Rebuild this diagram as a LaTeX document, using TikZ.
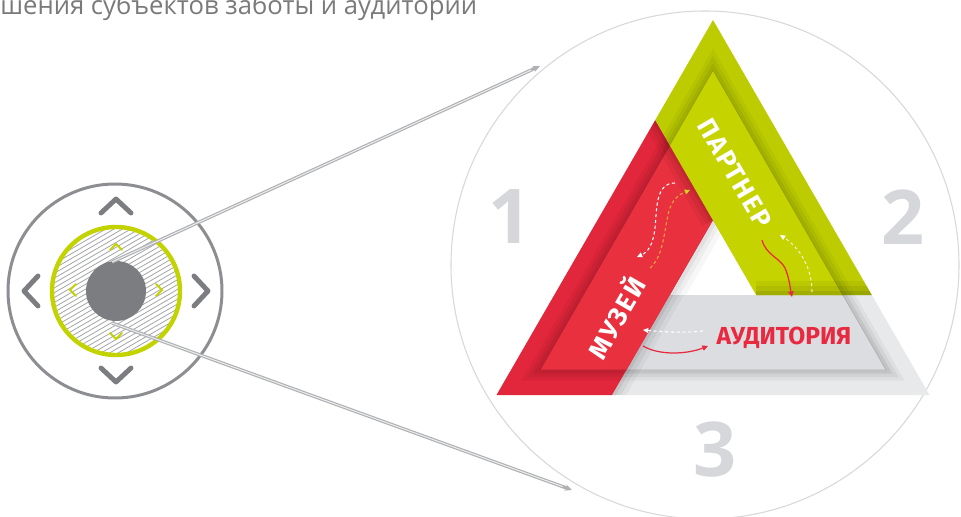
\documentclass[tikz,border=0pt]{standalone}
\usepackage{fontspec}
\setmainfont{Open Sans}
\newfontfamily\labfont{Fira Sans}
\newfontfamily\labfontw{Fira Sans}[LetterSpace=7]
\usetikzlibrary{arrows.meta,calc}
\definecolor{redband}{HTML}{E2263B}
\definecolor{redin}{HTML}{E8303F}
\definecolor{greenband}{HTML}{BDCC00}
\definecolor{greenin}{HTML}{C5D300}
\definecolor{grayband}{HTML}{E8E9EB}
\definecolor{grayin}{HTML}{DCDDE0}
\definecolor{numgray}{HTML}{D5D7DA}
\definecolor{ctrlgray}{HTML}{7B7D80}
\definecolor{ringgray}{HTML}{8C8E91}
\definecolor{lime}{HTML}{C3D300}
\definecolor{textgray}{HTML}{7A7A7A}
\definecolor{circgray}{HTML}{D6D8DA}
\definecolor{arrred}{HTML}{E8293F}
\definecolor{arrorange}{HTML}{F0A33A}
\definecolor{tipyel}{HTML}{D8D020}
\definecolor{paleyel}{HTML}{F2F1C0}
\definecolor{tubegray}{HTML}{AEB0B3}
\definecolor{hatchgray}{HTML}{A3A5A8}
\begin{document}
\begin{tikzpicture}[x=0.02cm,y=-0.02cm,
  num/.style={font=\fontsize{43}{43}\selectfont\bfseries, text=numgray, inner sep=0pt},
  lab/.style={font=\labfontw\fontsize{15}{15}\selectfont\bfseries, text=white, inner sep=0pt},
  bigchev/.style={draw=ctrlgray, line width=2.8pt, line cap=round, line join=round},
  smallchev/.style={draw=lime, line width=1.2pt, line cap=round},
  tube/.style={draw=tubegray, line width=1.9pt, -{Stealth[length=4pt,width=3.6pt]}},
  tubecore/.style={draw=white!85!gray, line width=0.6pt},
  dashw/.style={draw=white, line width=0.6pt, dash pattern=on 1.8pt off 1.5pt, -{Triangle[length=3pt,width=2.8pt]}},
  dasho/.style={draw=arrorange, line width=0.6pt, dash pattern=on 1.8pt off 1.5pt, -{Triangle[length=3pt,width=2.8pt,color=tipyel]}},
  dashy/.style={draw=paleyel, line width=0.6pt, dash pattern=on 1.8pt off 1.5pt, -{Triangle[length=3pt,width=2.8pt,color=white]}},
  solidr/.style={draw=arrred, line width=0.7pt, -{Triangle[length=3.2pt,width=3pt]}},
  shad/.style={draw=black, opacity=#1},
]
\useasboundingbox (0,0) rectangle (961,517);
\fill[white] (0,0) rectangle (961,517);

% ---------- zoom circle ----------
\draw[circgray, line width=0.6pt] (705,265) circle (254);

% ---------- numbers ----------
\node[num] (n1) at (510,217) {1};
\node[num] (n2) at (903,217) {2};
\node[num] (n3) at (715,450) {3};

% ---------- geometry ----------
\def\redpoly{(496.5,395) -- (655.3,120) -- (713,220) -- (612,395) -- cycle}
\def\greenpoly{(713,20) -- (871.8,295) -- (756.3,295) -- (655.3,120) -- cycle}
\def\graypoly{(669.7,295) -- (871.8,295) -- (929.5,395) -- (612,395) -- cycle}
\def\bevel{(713,70) -- (539.8,370) -- (886.2,370) -- cycle}
\def\hole{(713,220) -- (669.7,295) -- (756.3,295) -- cycle}

% gray band
\fill[grayband] \graypoly;
\begin{scope}
  \clip \graypoly;
  \foreach \w/\o in {12/0.04,8/0.05,4/0.07} \draw[shad=\o, line width=\w pt] \bevel;
  \fill[grayin] \bevel;
  \draw[black!30, line width=0.5pt] \bevel;
  \foreach \w/\o in {14/0.04,9/0.05,4/0.07} \draw[shad=\o, line width=\w pt] (713,220) -- (612,395);
\end{scope}

% red band
\fill[redband] \redpoly;
\begin{scope}
  \clip \redpoly;
  \foreach \w/\o in {12/0.04,8/0.05,4/0.06} \draw[shad=\o, line width=\w pt] \bevel;
  \fill[redin] \bevel;
  \draw[redband!80!black, line width=0.5pt] \bevel;
  \foreach \w/\o in {14/0.04,9/0.05,4/0.07} \draw[shad=\o, line width=\w pt] (655.3,120) -- (713,220);
\end{scope}

% green band
\fill[greenband] \greenpoly;
\begin{scope}
  \clip \greenpoly;
  \foreach \w/\o in {12/0.04,8/0.05,4/0.06} \draw[shad=\o, line width=\w pt] \bevel;
  \fill[greenin] \bevel;
  \draw[greenband!80!black, line width=0.5pt] \bevel;
  \foreach \w/\o in {16/0.05,10/0.06,5/0.08} \draw[shad=\o, line width=\w pt] (756.3,295) -- (871.8,295);
\end{scope}

% hole shading
\begin{scope}
  \clip \hole;
  \foreach \w/\o in {16/0.03,10/0.04,5/0.05} \draw[shad=\o, line width=\w pt] (713,220) -- (669.7,295);
\end{scope}

% ---------- labels ----------
\node[lab, rotate=-60] (partner) at (735,173) {ПАРТНЕР};
\node[lab, rotate=60] (museum) at (615,317) {МУЗЕЙ};
\node[lab, text=arrred, font=\labfont\fontsize{14}{14}\selectfont\bfseries] (audience) at (784,338) {АУДИТОРИЯ};

% ---------- small arrows ----------
\coordinate (a1s) at (675,183); \coordinate (a1e) at (637,257);
\coordinate (a2s) at (650,268); \coordinate (a2e) at (690,190);
\coordinate (a3s) at (762,240); \coordinate (a3e) at (792,297);
\coordinate (a4s) at (812,292); \coordinate (a4e) at (780,235);
\coordinate (a5s) at (703,331); \coordinate (a5e) at (643,330);
\coordinate (a6s) at (643,346); \coordinate (a6e) at (708,346);
\draw[dashw] (a1s) .. controls (655,183) and (657,210) .. (655,228) .. controls (653,245) and (648,252) .. (a1e);
\draw[dasho] (a2s) .. controls (662,258) and (664,235) .. (667,220) .. controls (670,200) and (678,195) .. (a2e);
\draw[solidr] (a3s) .. controls (766,255) and (780,258) .. (785,268) .. controls (789,277) and (790,287) .. (a3e);
\draw[dashy] (a4s) .. controls (812,268) and (800,248) .. (a4e);
\draw[dashw] (a5s) .. controls (685,333) and (665,332) .. (a5e);
\draw[solidr] (a6s) .. controls (660,356) and (688,354) .. (a6e);

% ---------- control ----------
\coordinate (ctrl) at (116,291);
\draw[ringgray, line width=1.7pt] (115,291) circle (107);
\begin{scope}
  \clip (ctrl) circle (64);
  \fill[white] (ctrl) circle (64);
  \foreach \k in {-18,...,18}
    \draw[hatchgray, line width=0.45pt] ({116+\k*2.1-90},{291+\k*3.64+52}) -- ({116+\k*2.1+90},{291+\k*3.64-52});
\end{scope}
\draw[lime, line width=2.5pt] (ctrl) circle (64);
\fill[ctrlgray] (ctrl) circle (30);
% big chevrons
\draw[bigchev] (101,213) -- (116,199) -- (131,213);
\draw[bigchev] (101,368) -- (116,382) -- (131,368);
\draw[bigchev] (38,276) -- (24,291) -- (38,306);
\draw[bigchev] (194,276) -- (208,291) -- (194,306);
% small chevrons
\draw[smallchev] (110,250) -- (116,244) -- (122,250);
\draw[smallchev] (110,333) -- (116,339) -- (122,333);
\draw[smallchev] (76,284) -- (70,290) -- (76,296);
\draw[smallchev] (156,284) -- (162,290) -- (156,296);

% ---------- connectors ----------
\coordinate (ctrlT) at (112,262);
\coordinate (ctrlB) at (112,323);
\coordinate (zoomT) at (540,66);
\coordinate (zoomB) at (572,490);
\draw[tube] (ctrlT) -- (zoomT);
\draw[tubecore] (ctrlT) -- ($(ctrlT)!0.98!(zoomT)$);
\draw[tube] (ctrlB) -- (zoomB);
\draw[tubecore] (ctrlB) -- ($(ctrlB)!0.98!(zoomB)$);

% ---------- title ----------
\node[anchor=base west, inner sep=0pt, text=textgray, font=\fontsize{14.6}{14.6}\selectfont] (title) at (0,15) {шения субъектов заботы и аудитории};
\end{tikzpicture}
\end{document}
